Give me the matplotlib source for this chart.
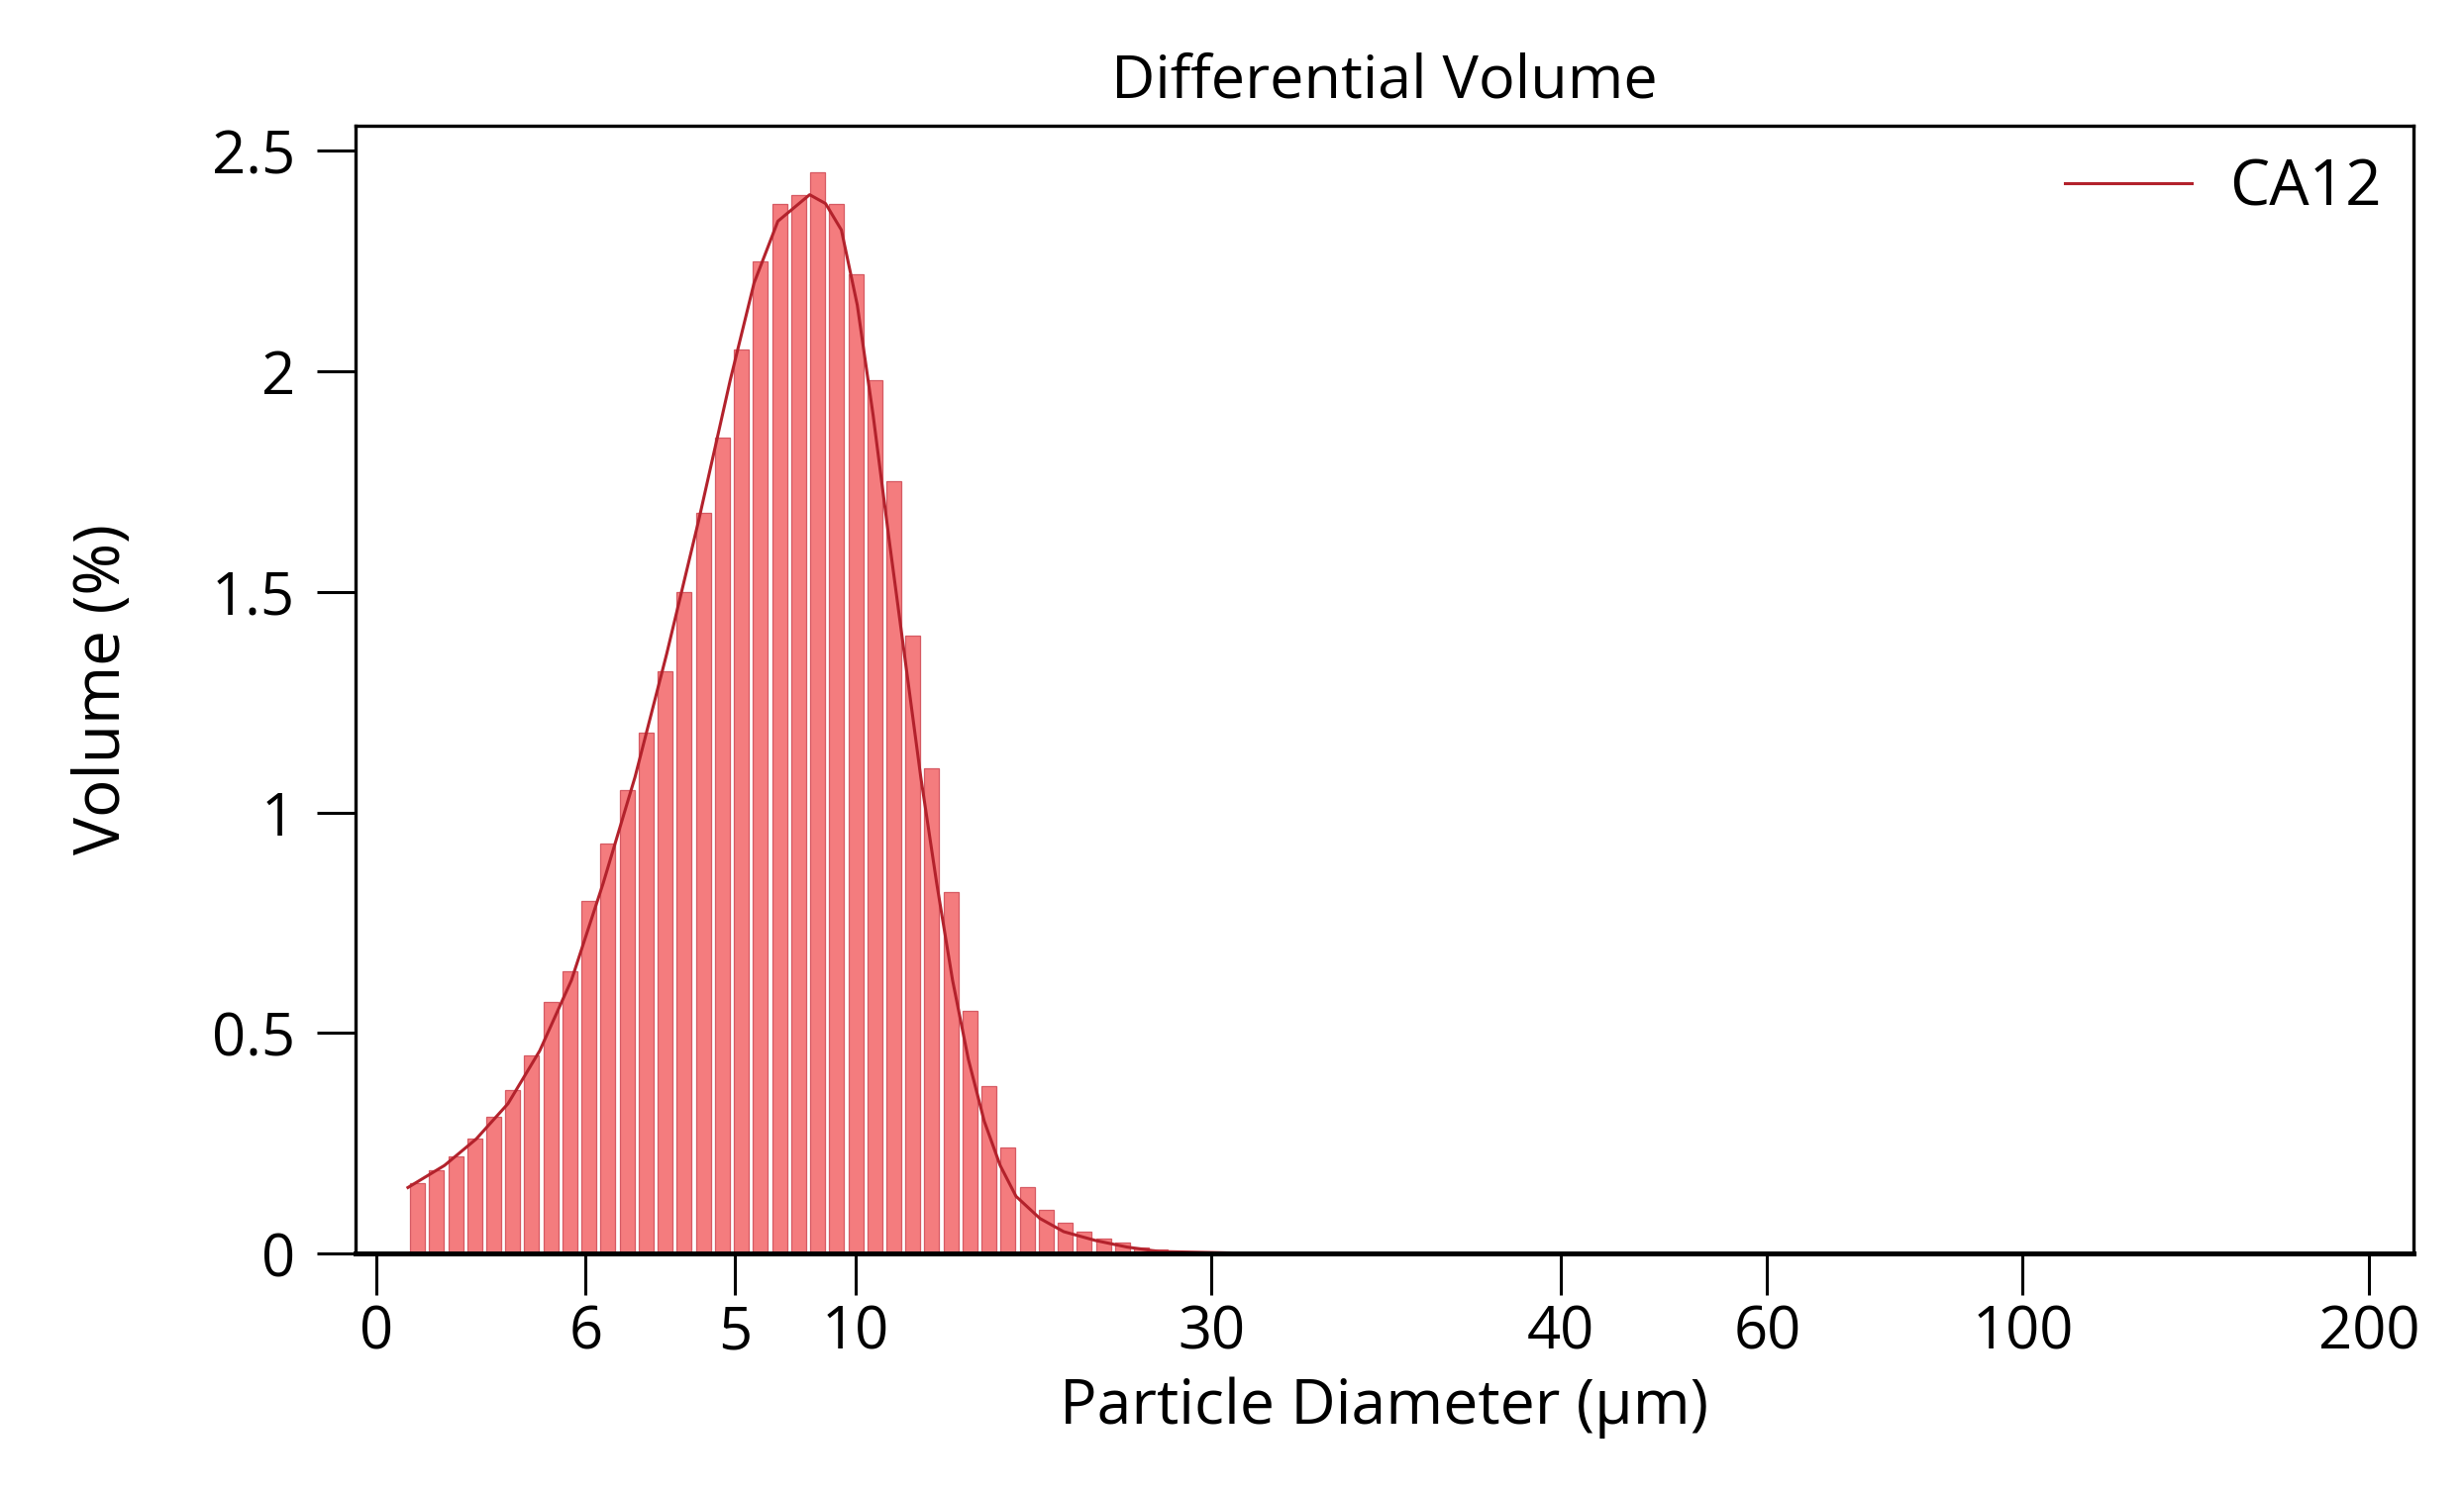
import numpy as np
import matplotlib
matplotlib.use('Agg')
import matplotlib.pyplot as plt

plt.rcParams['font.family'] = ['Open Sans', 'DejaVu Sans']

# channel axis runs in plot units; ticks carry the printed diameter labels
tick_pos = [237, 369, 463, 539, 763, 983, 1113, 1274, 1492]
tick_labels = ['0', '6', '5', '10', '30', '40', '60', '100', '200']

# histogram bins (channel start, width) and their volume %
bin_start = 257
bin_width = 12
bar_heights = [0.16, 0.19, 0.22, 0.26, 0.31, 0.37, 0.45, 0.57, 0.64, 0.80,
               0.93, 1.05, 1.18, 1.32, 1.50, 1.68, 1.85, 2.05, 2.25, 2.38,
               2.40, 2.45, 2.38, 2.22, 1.98, 1.75, 1.40, 1.10, 0.82, 0.55,
               0.38, 0.24, 0.15, 0.10, 0.07, 0.05, 0.035, 0.025, 0.015, 0.01]

# fitted CA12 curve
curve_x = [257, 280, 300, 320, 340, 360, 380, 400, 420, 440, 460, 475, 490,
           500, 510, 520, 530, 540, 550, 560, 570, 580, 590, 600, 610, 620,
           630, 640, 655, 670, 690, 710, 730, 800, 1000, 1520]
curve_y = [0.15, 0.20, 0.26, 0.34, 0.46, 0.62, 0.84, 1.08, 1.36, 1.66, 1.98,
           2.20, 2.34, 2.37, 2.40, 2.38, 2.32, 2.15, 1.90, 1.62, 1.35, 1.08,
           0.84, 0.62, 0.44, 0.30, 0.20, 0.13, 0.08, 0.05, 0.03, 0.015,
           0.005, 0.0, 0.0, 0.0]

fig = plt.figure(figsize=(24.88, 15.10), dpi=100)
ax = fig.add_axes([0.1443, 0.1614, 0.9794 - 0.1443, 0.9161 - 0.1614])

centers = bin_start + bin_width * (np.arange(len(bar_heights)) + 0.5)
ax.bar(centers, bar_heights, width=bin_width * 0.78, color='#f47c7e',
       edgecolor='#d65a63', linewidth=0.9)
ax.plot(curve_x, curve_y, color='#b3222c', linewidth=2.2, label='CA12')

ax.set_xlim(224, 1520)
ax.set_ylim(0, 2.557)
ax.set_xticks(tick_pos)
ax.set_xticklabels(tick_labels)
ax.set_yticks([0, 0.5, 1, 1.5, 2, 2.5])
ax.set_yticklabels(['0', '0.5', '1', '1.5', '2', '2.5'])

ax.tick_params(axis='x', direction='out', length=30, width=2.2, pad=6, labelsize=43)
ax.tick_params(axis='y', direction='out', length=28, width=2.2, pad=16, labelsize=43)
for side in ['top', 'right', 'left']:
    ax.spines[side].set_linewidth(2.4)
ax.spines['bottom'].set_linewidth(3.6)

ax.set_title('Differential Volume', fontsize=44, pad=20)
ax.set_xlabel('Particle Diameter (\u03bcm)', fontsize=45, labelpad=10)
ax.set_ylabel('Volume (%)', fontsize=46, labelpad=56)

ax.legend(loc='upper right', frameon=False, fontsize=46, handlelength=2.0,
          handletextpad=0.6, borderaxespad=0.1)

fig.savefig('out.png', dpi=100, facecolor='white')
